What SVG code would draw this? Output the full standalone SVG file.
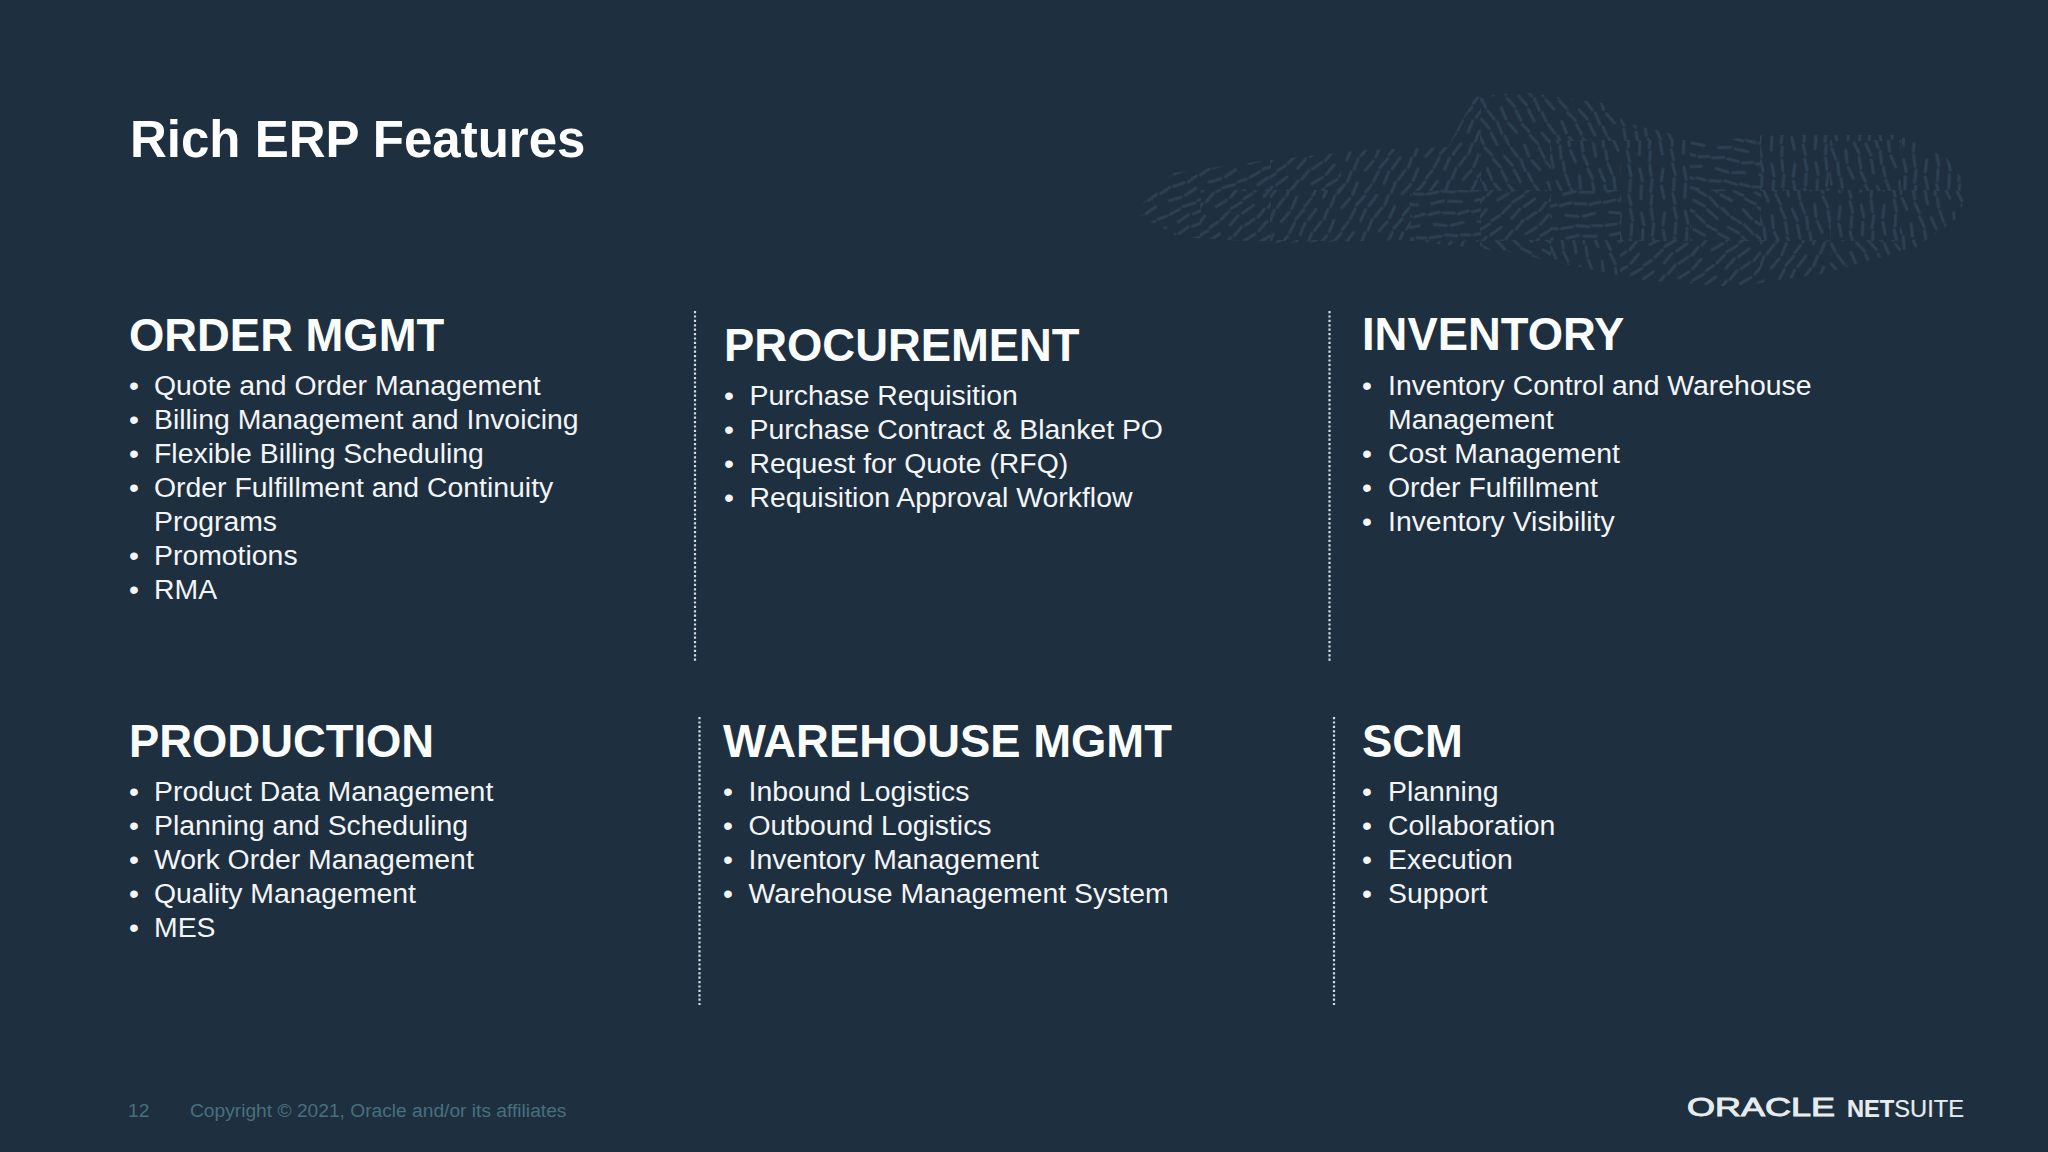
<svg xmlns="http://www.w3.org/2000/svg" width="2048" height="1152" viewBox="0 0 2048 1152">
<style>
text{font-family:"Liberation Sans",Arial,sans-serif;fill:#fff}
.title{font-size:51px;font-weight:700}
.h{font-size:45.4px;font-weight:700;fill:#fbfcfc}
.li{font-size:28.4px;fill:#f3f5f6}
.b{font-size:28.4px;fill:#f3f5f6}
.foot{font-size:19.2px;fill:#47707f}
.logo{fill:#e6eced;stroke:#e6eced}
.div{stroke:#d5dce0;stroke-width:2.2;stroke-dasharray:2.2 2.2;fill:none}
.d{stroke:#2a4052;stroke-width:3.2;stroke-linecap:round;fill:none}
.t rect{width:71px;height:51px}
.a{fill:url(#ra)}.b2{fill:url(#rb)}.c{fill:url(#rc)}.e{fill:url(#re)}.f{fill:url(#rf)}.g{fill:url(#rg)}.k{fill:url(#rk)}.m{fill:url(#rm)}.n{fill:url(#rn)}
</style>
<defs>
<pattern id="base" width="44" height="44" patternUnits="userSpaceOnUse">
<path class="d" d="M2 6l11-2M17 5l11 1M32 7l10-2M7 16l12 2M24 18l12-2M2 29l11-1M17 27l12 2M33 28l9 1M6 39l12-2M23 38l13 1"/>
</pattern>
<pattern id="ra" href="#base" patternTransform="rotate(-25)"/>
<pattern id="rb" href="#base" patternTransform="rotate(-58)"/>
<pattern id="rc" href="#base" patternTransform="rotate(58)"/>
<pattern id="re" href="#base" patternTransform="rotate(8)"/>
<pattern id="rf" href="#base" patternTransform="rotate(38)"/>
<pattern id="rg" href="#base" patternTransform="rotate(-40)"/>
<pattern id="rk" href="#base" patternTransform="rotate(88)"/>
<pattern id="rm" href="#base" patternTransform="rotate(75)"/>
<pattern id="rn" href="#base" patternTransform="rotate(-4)"/>
<clipPath id="blob"><path d="M1139 207L1173 173L1270 160L1366 150L1448 147L1462 120L1475 97L1523 92L1602 103L1626 123L1705 142L1765 135L1898 135L1946 157L1968 187L1959 217L1916 247L1825 273L1735 287L1644 280L1559 263L1511 252L1402 240L1281 243L1179 237L1142 217Z"/></clipPath>
<filter id="soft" x="0" y="0" width="1" height="1"><feGaussianBlur stdDeviation="0.7"/></filter>
</defs>
<rect width="2048" height="1152" fill="#1e2f40"/>
<g id="texture" clip-path="url(#blob)"><g class="t" filter="url(#soft)">
<rect class="a" x="1130" y="90"/><rect class="a" x="1200" y="90"/><rect class="a" x="1270" y="90"/><rect class="b2" x="1340" y="90"/><rect class="b2" x="1410" y="90"/><rect class="c" x="1480" y="90"/><rect class="c" x="1550" y="90"/><rect class="m" x="1620" y="90"/><rect class="e" x="1690" y="90"/><rect class="k" x="1760" y="90"/><rect class="k" x="1830" y="90"/><rect class="k" x="1900" y="90"/>
<rect class="a" x="1130" y="140"/><rect class="a" x="1200" y="140"/><rect class="g" x="1270" y="140"/><rect class="b2" x="1340" y="140"/><rect class="b2" x="1410" y="140"/><rect class="c" x="1480" y="140"/><rect class="m" x="1550" y="140"/><rect class="k" x="1620" y="140"/><rect class="e" x="1690" y="140"/><rect class="k" x="1760" y="140"/><rect class="m" x="1830" y="140"/><rect class="k" x="1900" y="140"/>
<rect class="a" x="1130" y="190"/><rect class="g" x="1200" y="190"/><rect class="b2" x="1270" y="190"/><rect class="b2" x="1340" y="190"/><rect class="n" x="1410" y="190"/><rect class="g" x="1480" y="190"/><rect class="n" x="1550" y="190"/><rect class="k" x="1620" y="190"/><rect class="f" x="1690" y="190"/><rect class="m" x="1760" y="190"/><rect class="k" x="1830" y="190"/><rect class="m" x="1900" y="190"/>
<rect class="a" x="1130" y="240"/><rect class="n" x="1200" y="240"/><rect class="g" x="1270" y="240"/><rect class="b2" x="1340" y="240"/><rect class="b2" x="1410" y="240"/><rect class="f" x="1480" y="240"/><rect class="m" x="1550" y="240"/><rect class="g" x="1620" y="240"/><rect class="g" x="1690" y="240"/><rect class="b2" x="1760" y="240"/><rect class="c" x="1830" y="240"/><rect class="m" x="1900" y="240"/>
</g></g>
<g id="title"><text class="title" x="130" y="157">Rich ERP Features</text></g>

<g id="connectors">
<line class="div" x1="695" y1="311" x2="695" y2="663"/>
<line class="div" x1="1329.5" y1="311" x2="1329.5" y2="663"/>
<line class="div" x1="699.5" y1="717" x2="699.5" y2="1005"/>
<line class="div" x1="1334" y1="717" x2="1334" y2="1005"/>
</g>

<g id="order-mgmt">
<text class="h" x="129" y="351">ORDER MGMT</text>
<text class="b" x="129" y="395">•</text><text class="li" x="154" y="395">Quote and Order Management</text>
<text class="b" x="129" y="429">•</text><text class="li" x="154" y="429">Billing Management and Invoicing</text>
<text class="b" x="129" y="463">•</text><text class="li" x="154" y="463">Flexible Billing Scheduling</text>
<text class="b" x="129" y="497">•</text><text class="li" x="154" y="497">Order Fulfillment and Continuity</text>
<text class="li" x="154" y="531">Programs</text>
<text class="b" x="129" y="565">•</text><text class="li" x="154" y="565">Promotions</text>
<text class="b" x="129" y="599">•</text><text class="li" x="154" y="599">RMA</text>
</g>

<g id="procurement">
<text class="h" x="724" y="361">PROCUREMENT</text>
<text class="b" x="724" y="405">•</text><text class="li" x="749.5" y="405">Purchase Requisition</text>
<text class="b" x="724" y="439">•</text><text class="li" x="749.5" y="439">Purchase Contract &amp; Blanket PO</text>
<text class="b" x="724" y="473">•</text><text class="li" x="749.5" y="473">Request for Quote (RFQ)</text>
<text class="b" x="724" y="507">•</text><text class="li" x="749.5" y="507">Requisition Approval Workflow</text>
</g>

<g id="inventory">
<text class="h" x="1362" y="350">INVENTORY</text>
<text class="b" x="1362" y="395">•</text><text class="li" x="1388" y="395">Inventory Control and Warehouse</text>
<text class="li" x="1388" y="429">Management</text>
<text class="b" x="1362" y="463">•</text><text class="li" x="1388" y="463">Cost Management</text>
<text class="b" x="1362" y="497">•</text><text class="li" x="1388" y="497">Order Fulfillment</text>
<text class="b" x="1362" y="531">•</text><text class="li" x="1388" y="531">Inventory Visibility</text>
</g>

<g id="production">
<text class="h" x="129" y="757">PRODUCTION</text>
<text class="b" x="129" y="801">•</text><text class="li" x="154" y="801">Product Data Management</text>
<text class="b" x="129" y="835">•</text><text class="li" x="154" y="835">Planning and Scheduling</text>
<text class="b" x="129" y="869">•</text><text class="li" x="154" y="869">Work Order Management</text>
<text class="b" x="129" y="903">•</text><text class="li" x="154" y="903">Quality Management</text>
<text class="b" x="129" y="937">•</text><text class="li" x="154" y="937">MES</text>
</g>

<g id="warehouse-mgmt">
<text class="h" x="723" y="757">WAREHOUSE MGMT</text>
<text class="b" x="723" y="801">•</text><text class="li" x="748.5" y="801">Inbound Logistics</text>
<text class="b" x="723" y="835">•</text><text class="li" x="748.5" y="835">Outbound Logistics</text>
<text class="b" x="723" y="869">•</text><text class="li" x="748.5" y="869">Inventory Management</text>
<text class="b" x="723" y="903">•</text><text class="li" x="748.5" y="903">Warehouse Management System</text>
</g>

<g id="scm">
<text class="h" x="1362" y="757">SCM</text>
<text class="b" x="1362" y="801">•</text><text class="li" x="1388" y="801">Planning</text>
<text class="b" x="1362" y="835">•</text><text class="li" x="1388" y="835">Collaboration</text>
<text class="b" x="1362" y="869">•</text><text class="li" x="1388" y="869">Execution</text>
<text class="b" x="1362" y="903">•</text><text class="li" x="1388" y="903">Support</text>
</g>

<g id="footer">
<text class="foot" x="128" y="1117">12</text>
<text class="foot" x="190" y="1117">Copyright © 2021, Oracle and/or its affiliates</text>
</g>

<g id="logo">
<text class="logo" style="stroke-width:.9;fill:#e6eced" x="1687" y="1116" font-size="25" textLength="148" lengthAdjust="spacingAndGlyphs">ORACLE</text>
<text class="logo" style="stroke-width:.2;fill:#e6eced" x="1847" y="1117" font-size="24" textLength="117" lengthAdjust="spacingAndGlyphs"><tspan font-weight="700">NET</tspan><tspan>SUITE</tspan></text>
</g>
</svg>
